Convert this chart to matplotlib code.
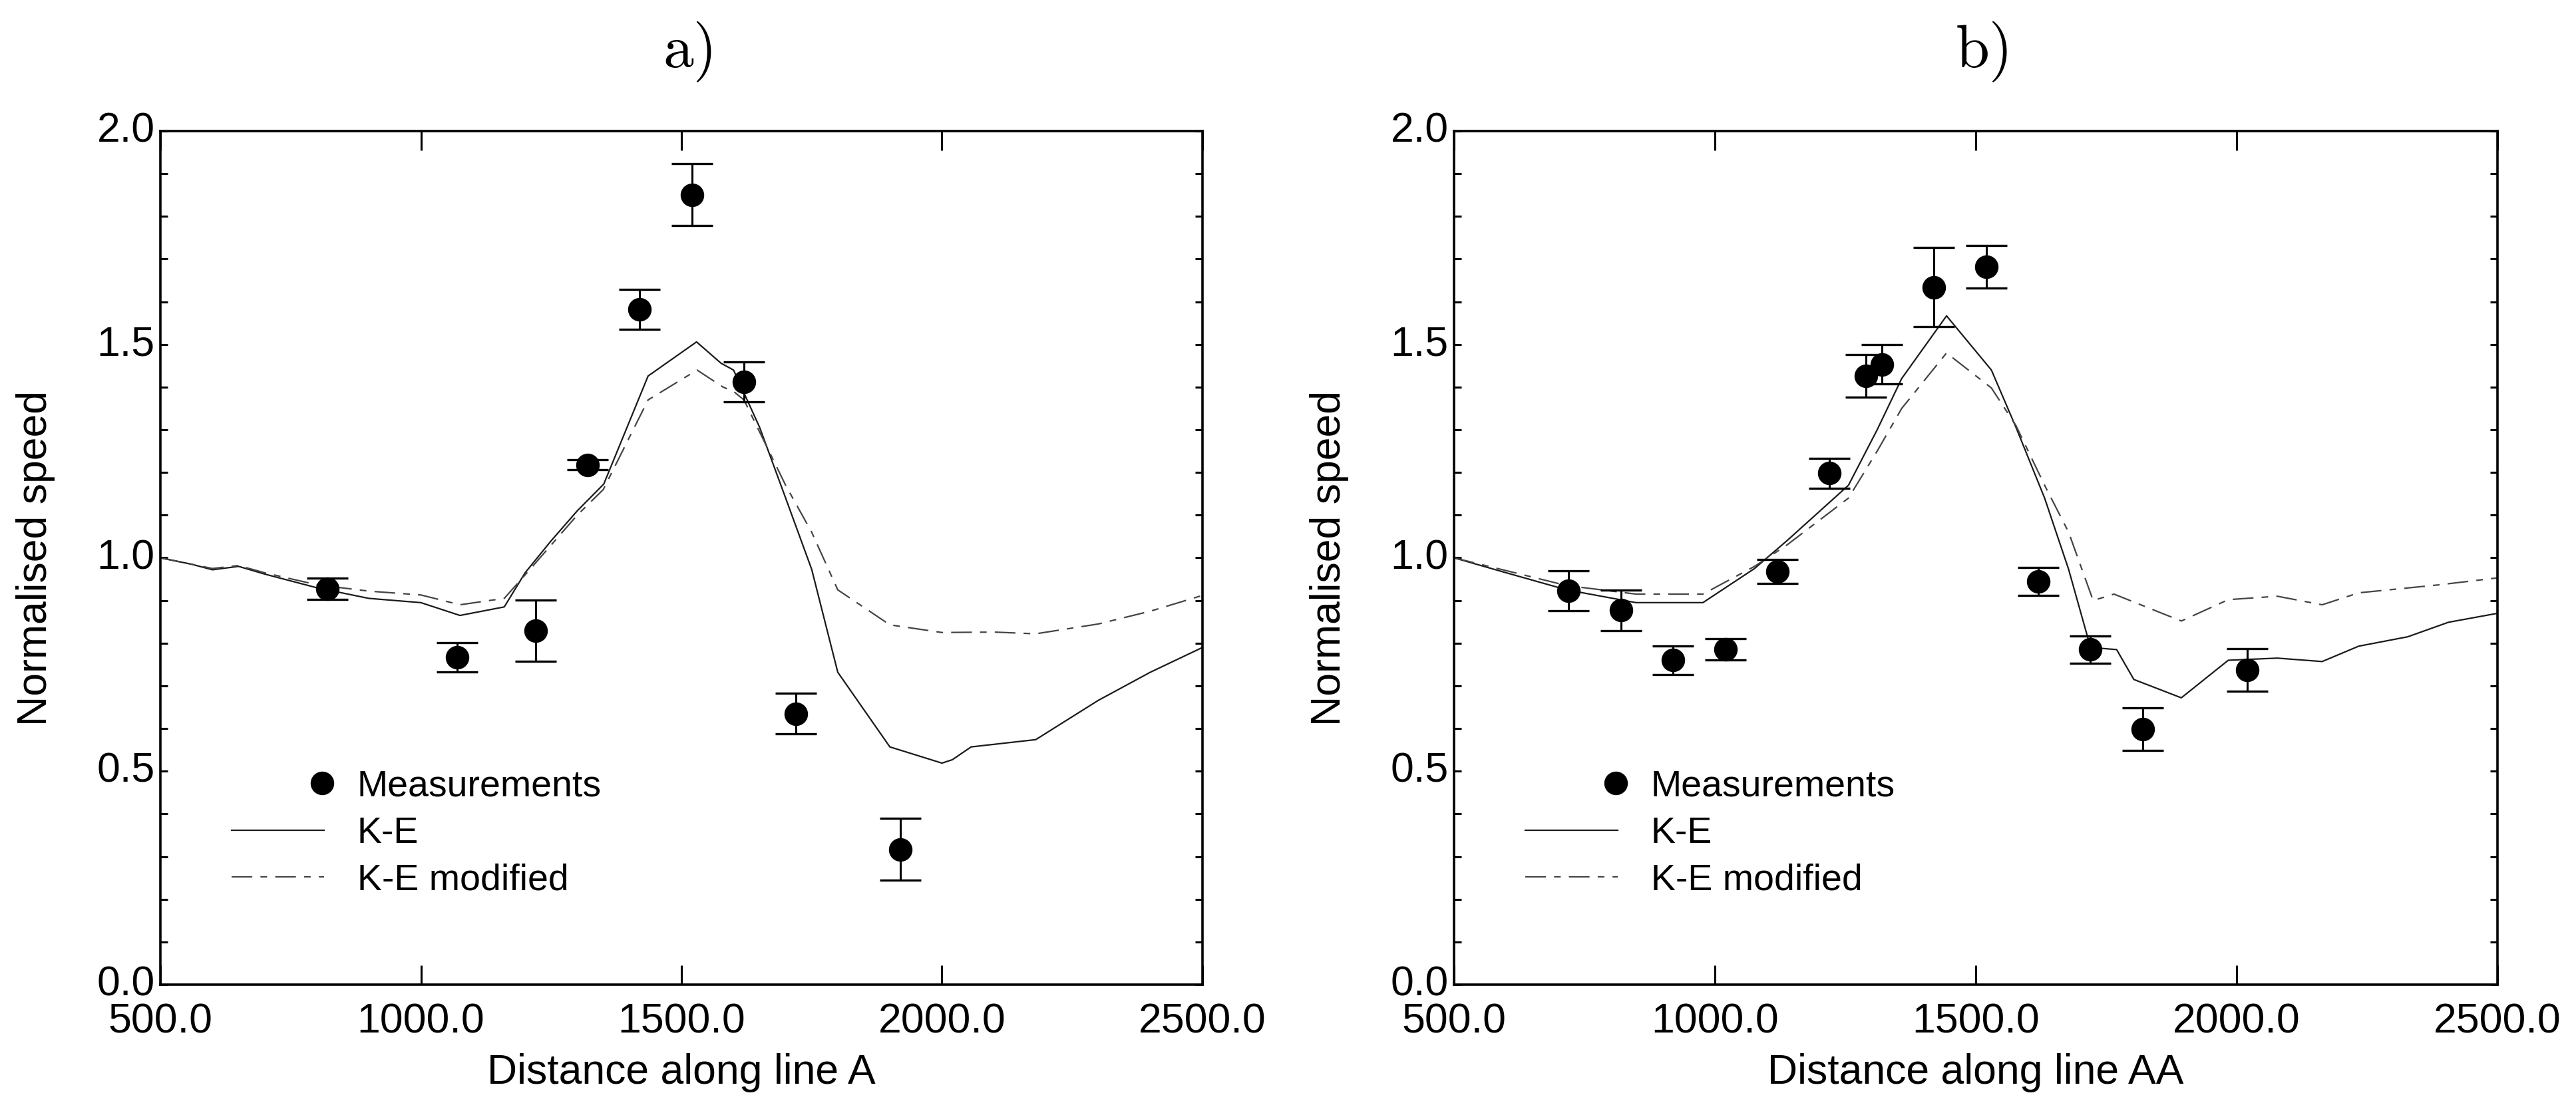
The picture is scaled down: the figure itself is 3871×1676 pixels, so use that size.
import numpy as np
import matplotlib
matplotlib.use("Agg")
import matplotlib.pyplot as plt
from matplotlib.legend_handler import HandlerLine2D
from matplotlib.ticker import MultipleLocator, FixedLocator, FormatStrFormatter

plt.rcParams['font.family'] = ['Liberation Sans', 'DejaVu Sans']

# ---------------- data: panel a ----------------
a_meas_x = [820, 1070, 1220, 1320, 1420, 1520, 1620, 1720, 1920]
a_meas_y = [0.927, 0.767, 0.829, 1.218, 1.582, 1.851, 1.412, 0.635, 0.317]
a_meas_err = [0.025, 0.034, 0.072, 0.012, 0.047, 0.072, 0.047, 0.047, 0.072]

a_ke_x = [500, 560, 600, 650, 700, 800, 900, 1000, 1075, 1160, 1200, 1250, 1300,
          1351, 1436, 1529, 1576, 1600, 1650, 1700, 1750, 1800, 1900, 2000, 2020,
          2056, 2180, 2300, 2400, 2500]
a_ke_y = [1.0, 0.985, 0.972, 0.98, 0.962, 0.930, 0.905, 0.895, 0.865, 0.885, 0.965,
          1.040, 1.110, 1.173, 1.426, 1.506, 1.456, 1.44, 1.306, 1.14, 0.973, 0.732,
          0.557, 0.519, 0.527, 0.557, 0.574, 0.666, 0.732, 0.790]

a_mod_x = [500, 560, 600, 650, 700, 800, 900, 1000, 1075, 1160, 1200, 1250, 1300,
           1350, 1436, 1530, 1580, 1600, 1620, 1700, 1750, 1800, 1900, 2000, 2100,
           2180, 2300, 2400, 2500]
a_mod_y = [1.0, 0.985, 0.975, 0.982, 0.965, 0.937, 0.922, 0.913, 0.890, 0.905, 0.960,
           1.030, 1.100, 1.160, 1.370, 1.440, 1.400, 1.390, 1.370, 1.170, 1.060, 0.925,
           0.843, 0.825, 0.826, 0.822, 0.845, 0.875, 0.912]

# ---------------- data: panel b ----------------
b_meas_x = [720, 820, 920, 1020, 1120, 1220, 1290, 1320, 1420, 1520, 1620, 1720, 1820, 2020]
b_meas_y = [0.923, 0.877, 0.760, 0.785, 0.968, 1.198, 1.426, 1.453, 1.634, 1.682,
            0.945, 0.785, 0.599, 0.737]
b_meas_err = [0.047, 0.048, 0.033, 0.025, 0.028, 0.035, 0.05, 0.046, 0.093, 0.05,
              0.033, 0.032, 0.05, 0.05]

b_ke_x = [500, 600, 716, 849, 977, 1076, 1138, 1256, 1311, 1358, 1444, 1530, 1577,
          1632, 1678, 1720, 1770, 1803, 1894, 1984, 2078, 2164, 2234, 2328, 2406, 2500]
b_ke_y = [1.0, 0.965, 0.925, 0.895, 0.895, 0.975, 1.04, 1.17, 1.30, 1.42, 1.567,
          1.44, 1.306, 1.14, 0.973, 0.79, 0.785, 0.715, 0.672, 0.76, 0.765, 0.757,
          0.793, 0.815, 0.849, 0.87]

b_mod_x = [500, 600, 716, 849, 977, 1076, 1138, 1256, 1311, 1358, 1444, 1530, 1577,
           1632, 1678, 1725, 1765, 1894, 1984, 2078, 2164, 2234, 2390, 2500]
b_mod_y = [1.0, 0.97, 0.935, 0.915, 0.915, 0.98, 1.03, 1.14, 1.25, 1.35, 1.48,
           1.398, 1.31, 1.17, 1.06, 0.90, 0.915, 0.852, 0.902, 0.91, 0.89, 0.918,
           0.937, 0.953]

titles = ["a)", "b)"]
xlabels = ["Distance along line A", "Distance along line AA"]
ylabel = "Normalised speed"
legend_labels = ["Measurements", "K-E", "K-E modified"]
x_ticks = [500, 1000, 1500, 2000, 2500]
y_ticks = [0.0, 0.5, 1.0, 1.5, 2.0]


class RightMarkerHandler(HandlerLine2D):
    """Legend handler that puts the single marker at the right end of the handle."""
    def get_xdata(self, legend, xdescent, ydescent, width, height, fontsize):
        x = -xdescent + width - 2
        return np.array([x, x]), np.array([x])


fig = plt.figure(figsize=(38.71, 16.76), dpi=100)
W, H = 3871, 1676
ax_a = fig.add_axes([241 / W, (H - 1480) / H, 1566 / W, 1283 / H])
ax_b = fig.add_axes([2185 / W, (H - 1480) / H, 1568 / W, 1283 / H])

panels = [
    (ax_a, a_meas_x, a_meas_y, a_meas_err, a_ke_x, a_ke_y, a_mod_x, a_mod_y),
    (ax_b, b_meas_x, b_meas_y, b_meas_err, b_ke_x, b_ke_y, b_mod_x, b_mod_y),
]

for i, (ax, mx, my, me, kx, ky, dx, dy) in enumerate(panels):
    ax.plot(kx, ky, color='#1a1a1a', lw=1.6, ls='-', label=legend_labels[1], zorder=2)
    ax.plot(dx, dy, color='#444444', lw=1.6, dashes=(14, 5.5, 4.5, 5.5),
            label=legend_labels[2], zorder=2)
    ax.errorbar(mx, my, yerr=me, fmt='none', ecolor='black', elinewidth=2.2,
                capsize=22, capthick=2.4, zorder=3)
    pts, = ax.plot(mx, my, 'o', color='black', markersize=24.5, ls='none',
                   label=legend_labels[0], zorder=4)

    ax.set_xlim(500, 2500)
    ax.set_ylim(0.0, 2.0)
    ax.xaxis.set_major_locator(FixedLocator(x_ticks))
    ax.yaxis.set_major_locator(FixedLocator(y_ticks))
    ax.yaxis.set_minor_locator(MultipleLocator(0.1))
    ax.xaxis.set_major_formatter(FormatStrFormatter('%.1f'))
    ax.yaxis.set_major_formatter(FormatStrFormatter('%.1f'))
    ax.tick_params(axis='x', which='major', direction='in', length=21, width=2.2,
                   top=True, bottom=True, labelsize=45, pad=19)
    ax.tick_params(axis='y', which='both', direction='in', length=8, width=2.2,
                   left=True, right=True, labelsize=45, pad=6)
    for lbl in ax.get_yticklabels():
        lbl.set_verticalalignment('center')
    for sp in ax.spines.values():
        sp.set_linewidth(2.6)

    ax.set_xlabel(xlabels[i], fontsize=45)
    ax.set_ylabel(ylabel, fontsize=45)
    ax.xaxis.set_label_coords(0.5, -0.080)
    ax.yaxis.set_label_coords(-0.101, 0.5)

    ax.set_title(titles[i], fontfamily='cmr10', fontsize=66, x=0.508, y=1.0935,
                 va='center', pad=0)

    handles, labels = ax.get_legend_handles_labels()
    order = [labels.index(l) for l in legend_labels]
    ax.legend([handles[k] for k in order], [labels[k] for k in order],
              loc='upper left', bbox_to_anchor=(0.0683, 0.2518),
              borderaxespad=0, borderpad=0, frameon=False, fontsize=40,
              handlelength=2.5, handletextpad=0.9, labelspacing=0.33,
              handler_map={pts: RightMarkerHandler(numpoints=1)})

fig.savefig("out.png", dpi=100)
